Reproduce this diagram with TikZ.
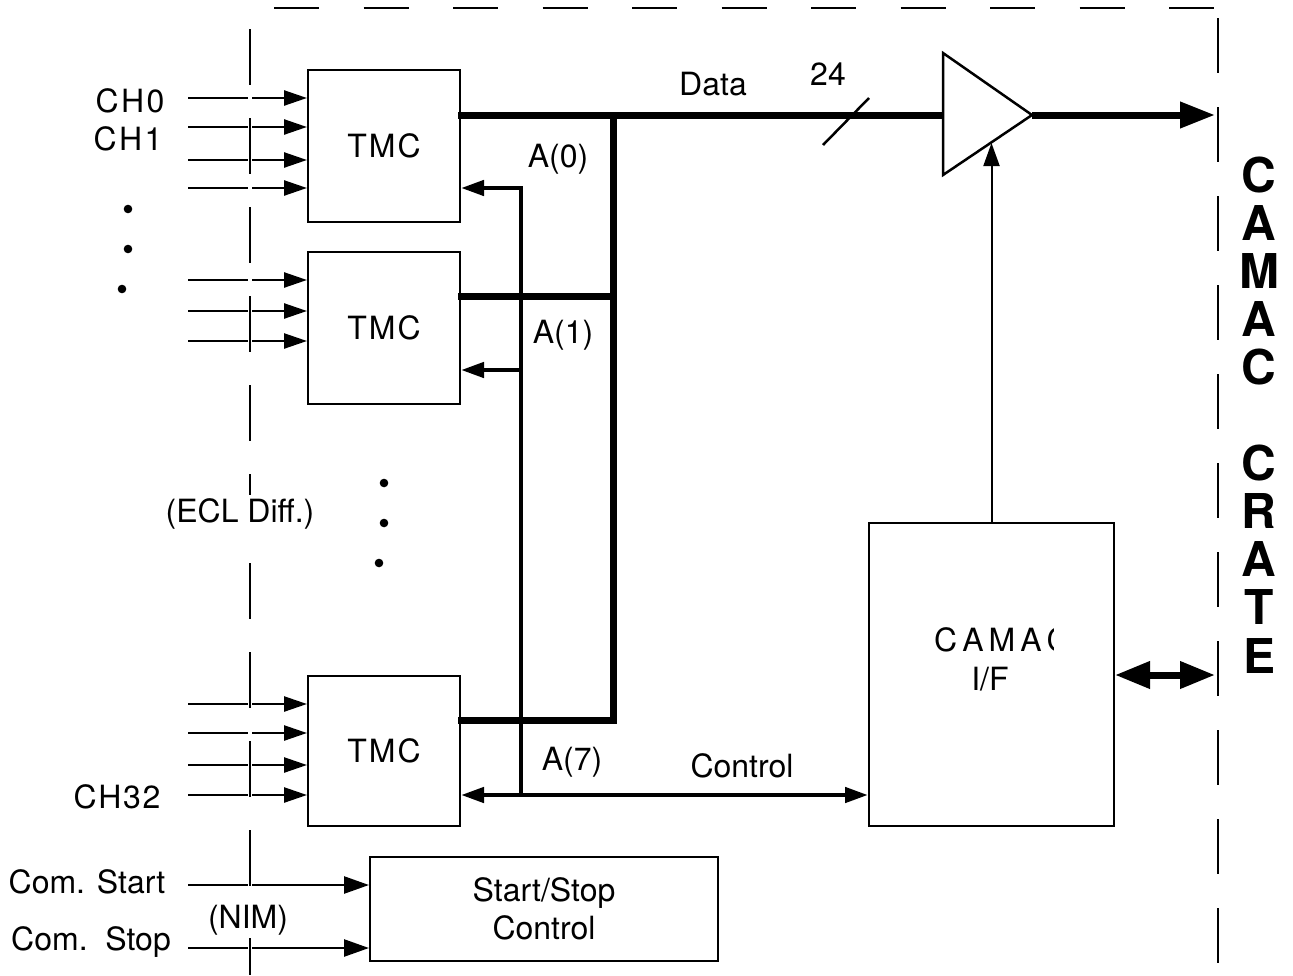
\documentclass[tikz,border=0pt]{standalone}
\usepackage{fontspec}
\setmainfont{TeX Gyre Heros}
\usetikzlibrary{arrows.meta}
\newcommand\lblfont{\fontsize{32}{38}\selectfont}
\tikzset{
  atip/.tip={Triangle[length=23pt,width=15pt]},
  btip/.tip={Triangle[length=35pt,width=26pt]},
  blk/.style={draw, line width=2pt, inner sep=0pt, font=\lblfont},
  bus/.style={line width=7pt, line cap=rect, line join=miter},
  addr/.style={line width=4.5pt, line join=miter},
  inarr/.style={line width=2.5pt, -{Triangle[length=23pt,width=15pt]}},
  ssarr/.style={line width=2.5pt, -{Triangle[length=25pt,width=17pt]}},
  lbl/.style={font=\lblfont, anchor=base, inner sep=0pt},
  cratelbl/.style={font=\fontsize{48}{48}\selectfont\bfseries, anchor=base, inner sep=0pt},
  dot/.style={fill=black}
}
\begin{document}
\begin{tikzpicture}[x=1pt,y=-1pt]
\useasboundingbox (0,0) rectangle (1293,975);

% blocks
\node[blk, minimum width=152pt, minimum height=152pt] (tmc1) at (384,146) {T\kern2pt M\kern2pt C};
\node[blk, minimum width=152pt, minimum height=152pt] (tmc2) at (384,328) {T\kern2pt M\kern2pt C};
\node[blk, minimum width=152pt, minimum height=150pt] (tmc3) at (384,751) {T\kern2pt M\kern2pt C};
\node[blk, minimum width=348pt, minimum height=104pt, align=center, font={\fontsize{32}{38}\selectfont}] (ss) at (544,909) {Start/Stop\\Control};
\node[blk, minimum width=245pt, minimum height=303pt] (cif) at (991.5,674.5) {};
\begin{scope}
  \clip (900,600) rectangle (1053,700);
  \node[lbl, anchor=base west] (cifa) at (934,651) {C\kern5pt A\kern5pt M\kern5pt A\kern5pt C};
\end{scope}
\node[lbl] (cifb) at (990,690) {I/F};

% junction coordinates
\coordinate (j0) at (613,115);
\coordinate (j1) at (613,296);
\coordinate (j2) at (613,720);
\coordinate (bufin) at (943,115);
\coordinate (bufout) at (1032,115);
\coordinate (bufc) at (990,143);
\coordinate (dout) at (1215,115);
\coordinate (crate) at (1215,675);
\coordinate (a0) at (521,188);
\coordinate (a1) at (521,370);
\coordinate (a7) at (521,795);

% data bus
\draw[bus] (tmc1.east |- j0) -- (bufin);
\draw[bus] (tmc3.east |- j2) -- (j2) -- (j0);
\draw[bus] (tmc2.east |- j1) -- (j1);

% buffer
\draw[line width=2.5pt, line join=miter, fill=white] (943,53) -- (bufout) -- (943,175) -- cycle;
\draw[line width=7pt, -{Triangle[length=35pt,width=25pt]}] (bufout) -- (dout);
\draw[line width=2.5pt] (823,145) -- (869,98);

% address / control lines
\draw[addr, -{atip}] (a7) -- (a0) -- (tmc1.east |- a0);
\draw[addr, -{atip}] (a1) -- (tmc2.east |- a1);
\draw[addr, {atip}-{atip}] (tmc3.east |- a7) -- (cif.west |- a7);
\draw[line width=2pt, -{Triangle[length=23pt,width=16pt]}] (cif.north) -- (cif.north |- bufc);
\draw[line width=7pt, {btip}-{btip}] (cif.east |- crate) -- (crate);

% inputs
\foreach \y [count=\i] in {98,127,160,188} {
  \coordinate (ia\i) at (188,\y);
  \draw[inarr] (ia\i) -- (tmc1.west |- ia\i);
}
\foreach \y [count=\i] in {280,311,341} {
  \coordinate (ib\i) at (188,\y);
  \draw[inarr] (ib\i) -- (tmc2.west |- ib\i);
}
\foreach \y [count=\i] in {704,733,765,795} {
  \coordinate (ic\i) at (188,\y);
  \draw[inarr] (ic\i) -- (tmc3.west |- ic\i);
}
\coordinate (cs) at (188,885);
\coordinate (cp) at (188,948);
\draw[ssarr] (cs) -- (ss.west |- cs);
\draw[ssarr] (cp) -- (ss.west |- cp);

% dashed crate boundary
\draw[line width=2.5pt, dash pattern=on 45pt off 44.5pt] (274,8) -- (1214,8);
\draw[white, line width=4pt] (250,29) -- (250,975);
\draw[line width=2pt, dash pattern=on 56pt off 33pt] (250,29) -- (250,975);
\draw[line width=2.5pt, dash pattern=on 55pt off 34pt] (1218,18) -- (1218,975);

% dots
\fill[dot] (128,209) circle (4.3);
\fill[dot] (128,249) circle (4.3);
\fill[dot] (122,289) circle (4.3);
\fill[dot] (384,483) circle (4.3);
\fill[dot] (384,523) circle (4.3);
\fill[dot] (379,563) circle (4.3);

% labels
\node[lbl] (ch0) at (130,112) {C\kern2.5pt H\kern2.5pt 0};
\node[lbl] (ch1) at (128,150) {C\kern2.5pt H\kern2.5pt 1};
\node[lbl] (ch32) at (117,808) {C\kern1.7pt H\kern1.7pt 3\kern1.7pt 2};
\node[lbl] (ldata) at (713,95) {Data};
\node[lbl] (l24) at (828,85) {24};
\node[lbl] (la0) at (558,167) {A(0)};
\node[lbl] (la1) at (563,343) {A(1)};
\node[lbl] (la7) at (572,770) {A(7)};
\node[lbl] (lctl) at (742,777) {Control};
\node[lbl] (lcs) at (87,893) {Com. Start};
\node[lbl] (lcp) at (91,950) {Com.\ \ Stop};
\node[lbl, fill=white, inner ysep=3pt] (lecl) at (240,522) {(ECL Diff.)};
\node[lbl, fill=white, inner ysep=3pt] (lnim) at (248,928) {(NIM)};

% CAMAC CRATE
\foreach \c/\y [count=\i] in {C/192, A/240.1, M/288.2, A/336.3, C/384.4, C/480.6, R/528.7, A/576.8, T/624.9, E/673} {
  \node[cratelbl] (cr\i) at (1259,\y) {\c};
}
\end{tikzpicture}
\end{document}
